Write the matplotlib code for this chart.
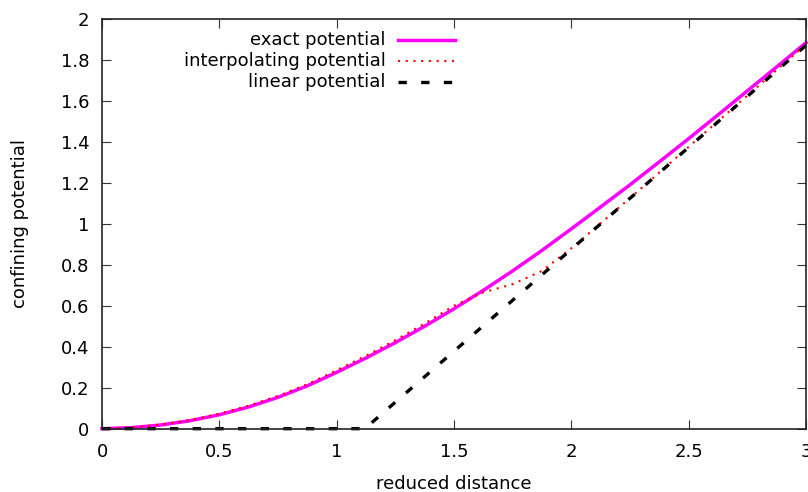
import numpy as np
import matplotlib
matplotlib.use("Agg")
import matplotlib.pyplot as plt
from matplotlib.lines import Line2D

# values
x_exact = [0, 0.125, 0.25, 0.375, 0.5, 0.625, 0.75, 0.875, 1.0, 1.125, 1.25, 1.375,
           1.5, 1.625, 1.75, 1.875, 2.0, 2.125, 2.25, 2.375, 2.5, 2.625, 2.75, 2.875, 3.0]
y_exact = [0, 0.005, 0.018, 0.039, 0.068, 0.106, 0.153, 0.209, 0.275, 0.345, 0.42, 0.5,
           0.585, 0.675, 0.77, 0.87, 0.975, 1.082, 1.19, 1.302, 1.415, 1.531, 1.648, 1.765, 1.883]

x_interp = [0, 0.125, 0.25, 0.375, 0.5, 0.625, 0.75, 0.875, 1.0, 1.125, 1.25, 1.375,
            1.5, 1.625, 1.75, 1.875, 2.0, 2.25, 2.5, 2.75, 3.0]
y_interp = [0, 0.006, 0.02, 0.042, 0.073, 0.112, 0.16, 0.217, 0.285, 0.356, 0.432, 0.513,
            0.6, 0.665, 0.705, 0.77, 0.88, 1.125, 1.375, 1.625, 1.875]

x_linear = [0, 1.12, 3.0]
y_linear = [0, 0, 1.87]

labels = ["exact potential", "interpolating potential", "linear potential"]

plt.rcParams['font.family'] = ['DejaVu Sans']
fig = plt.figure(figsize=(8.08, 4.92), dpi=100)
ax = fig.add_axes([102/808, 1 - 428.7/492, 704/808, 410/492])

styles = [
    dict(color='#ff00ff', lw=2.5, linestyle='-'),
    dict(color='#ff0000', lw=1.5, linestyle=(0, (1, 2.7))),
    dict(color='black', lw=2.4, linestyle=(0, (2.5, 4.3))),
]

ax.plot(x_exact, y_exact, clip_on=False, **styles[0])
ax.plot(x_interp, y_interp, clip_on=False, **styles[1])
ax.plot(x_linear, y_linear, clip_on=False, **styles[2])

ax.set_xlim(0, 3)
ax.set_ylim(0, 2)
ax.set_xticks(np.arange(0, 3.01, 0.5))
ax.set_xticklabels(["0", "0.5", "1", "1.5", "2", "2.5", "3"])
ax.set_yticks(np.arange(0, 2.01, 0.2))
ax.set_yticklabels(["0", "0.2", "0.4", "0.6", "0.8", "1", "1.2", "1.4", "1.6", "1.8", "2"])
ax.tick_params(direction='in', length=6.5, width=0.8, top=True, right=True,
               labelsize=13, color='#333333')
ax.tick_params(axis='x', pad=10)
ax.tick_params(axis='y', pad=9)
for s in ax.spines.values():
    s.set_linewidth(1.2)
    s.set_color('#222222')

fig.text(454/808, 1 - 484/492, "reduced distance", ha='center', va='center', fontsize=13)
fig.text(20/808, 1 - 224/492, "confining potential", ha='center', va='center',
         rotation=90, fontsize=13)

# key, gnuplot style: right aligned text then sample
rows = [40, 61, 82]
for lab, st, yy in zip(labels, styles, rows):
    fig.text(386/808, 1 - yy/492, lab, ha='right', va='center', fontsize=13)
    fig.add_artist(Line2D([398/808, 455/808], [1 - yy/492, 1 - yy/492],
                          transform=fig.transFigure, **st))

fig.savefig("out.png", dpi=100)
